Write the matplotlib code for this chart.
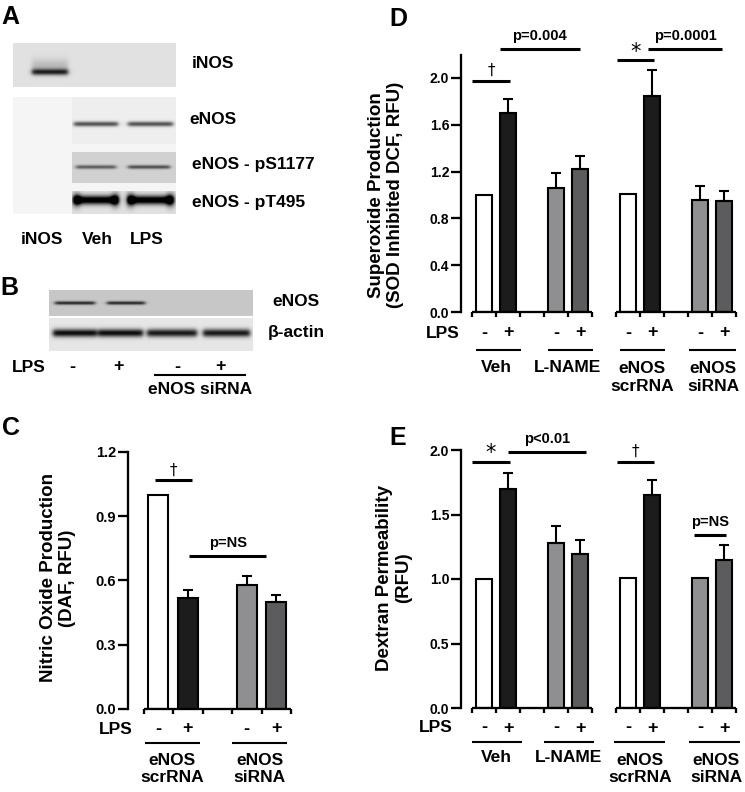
import numpy as np
import matplotlib
matplotlib.use("Agg")
import matplotlib.pyplot as plt
from matplotlib.transforms import blended_transform_factory

plt.rcParams['font.family'] = ['Liberation Sans', 'DejaVu Sans']
plt.rcParams['font.weight'] = 'bold'

W, H = 745, 792

# ---- data ----
lps_signs = ['-', '+']
bar_colors = ['white', '#1c1c1c', '#8f8f91', '#5c5c5e']

c_groups = ['eNOS\nscrRNA', 'eNOS\nsiRNA']
c_vals = [1.00, 0.52, 0.58, 0.50]
c_errs = [0.0, 0.036, 0.042, 0.033]
c_ticks = [0.0, 0.3, 0.6, 0.9, 1.2]

d_groups = ['Veh', 'L-NAME', 'eNOS\nscrRNA', 'eNOS\nsiRNA']
d_vals = [1.00, 1.70, 1.06, 1.22, 1.01, 1.85, 0.96, 0.95]
d_errs = [0.0, 0.12, 0.125, 0.11, 0.0, 0.22, 0.12, 0.08]
d_ticks = [0.0, 0.4, 0.8, 1.2, 1.6, 2.0]

e_groups = ['Veh', 'L-NAME', 'eNOS\nscrRNA', 'eNOS\nsiRNA']
e_vals = [1.00, 1.70, 1.28, 1.19, 1.01, 1.65, 1.01, 1.15]
e_errs = [0.0, 0.125, 0.13, 0.11, 0.0, 0.12, 0.0, 0.11]
e_ticks = [0.0, 0.5, 1.0, 1.5, 2.0]

# significance marks: (x0, x1, y, label)
c_sig = [(-0.1, 1.15, 1.067, '†'), (1.05, 3.65, 0.714, 'p=NS')]
d_sig = [(-0.5, 1.1, 1.977, '†'), (0.65, 4.0, 2.25, 'p=0.004'),
         (5.55, 7.1, 2.15, '*'), (6.85, 9.9, 2.25, 'p=0.0001')]
e_sig = [(-0.5, 1.08, 1.91, '*'), (1.0, 4.25, 1.987, 'p<0.01'),
         (5.55, 7.1, 1.91, '†'), (8.75, 10.1, 1.342, 'p=NS')]

blot_a_rows = ['iNOS', 'eNOS', 'eNOS - pS1177', 'eNOS - pT495']
blot_a_lanes = ['iNOS', 'Veh', 'LPS']
blot_b_rows = ['eNOS', 'β-actin']
blot_b_lps = ['-', '+', '-', '+']

fig = plt.figure(figsize=(W / 100, H / 100), dpi=100)
ax0 = fig.add_axes([0, 0, 1, 1])
ax0.set_xlim(0, W)
ax0.set_ylim(H, 0)
ax0.axis('off')


def blot(x0, x1, y0, y1, bg, bands):
    w, h = int(x1 - x0), int(y1 - y0)
    xx, yy = np.meshgrid(np.arange(w) + x0 + 0.5, np.arange(h) + y0 + 0.5)
    img = np.full((h, w), bg, float)
    for xa, xb, yc, th, dk in bands:
        tx = 0.5 * (np.tanh((xx - xa) / 2.5) - np.tanh((xx - xb) / 2.5))
        img -= dk * tx * np.exp(-((yy - yc) / th) ** 2)
    ax0.imshow(np.clip(img, 0, 1), cmap='gray', vmin=0, vmax=1,
               extent=(x0, x1, y1, y0), interpolation='bilinear',
               aspect='auto', zorder=1)


# panel A blots
blot(13, 176, 43, 87, 0.88, [(32, 68, 72, 3.2, 0.7), (32, 68, 66, 7, 0.15)])
blot(13, 176, 97, 214, 0.96, [])
blot(72, 176, 97, 144, 0.93, [(74, 118, 124, 2.5, 0.6), (128, 173, 124, 2.5, 0.6)])
blot(72, 176, 152, 183, 0.82, [(76, 116, 167, 2, 0.45), (128, 170, 167, 2, 0.5)])
blot(72, 176, 191, 214, 0.88, [(74, 118, 200, 4.5, 1.0), (128, 173, 200, 4.5, 1.0),
                              (73, 80, 200, 7, 0.6), (112, 119, 200, 7, 0.6),
                              (127, 134, 200, 7, 0.6), (167, 174, 200, 7, 0.6)])
for s, y, x in zip(blot_a_rows, [63, 120, 165, 203], [192, 189, 192, 192]):
    ax0.text(x, y, s, fontsize=12.5, va='center', ha='left')
for s, x in zip(blot_a_lanes, [42, 97, 147]):
    ax0.text(x, 240, s, fontsize=12.5, va='center', ha='center')

# panel B blots
blot(49, 253, 290, 316, 0.78, [(55, 95, 303, 1.8, 0.6), (107, 145, 303, 1.8, 0.6)])
blot(49, 253, 318, 351, 0.9, [(53, 97, 333, 4, 0.85), (98, 143, 333, 4, 0.85),
                             (147, 197, 333, 4, 0.8), (203, 250, 333, 4, 0.8)])
for s, y, x in zip(blot_b_rows, [301, 333], [272, 268]):
    ax0.text(x, y, s, fontsize=12.5, va='center', ha='left')
ax0.text(29, 367, 'LPS', fontsize=12.5, va='center', ha='center')
for s, x in zip(blot_b_lps, [72, 118, 177, 220]):
    ax0.text(x, 367, s, fontsize=13, va='center', ha='center')
ax0.plot([155, 245], [375, 375], color='black', lw=1.5)
ax0.text(200, 390, 'eNOS siRNA', fontsize=12.5, va='center', ha='center')

# panel letters
for s, x, y in [('A', 10, 17), ('B', 9, 288), ('C', 11, 428), ('D', 398, 19), ('E', 398, 438)]:
    ax0.text(x, y, s, fontsize=18, va='center', ha='center')

# y labels
ax0.text(58, 578, 'Nitric Oxide Production\n(DAF, RFU)', rotation=90, fontsize=13.5,
         ha='center', va='center', multialignment='center', linespacing=1.2)
ax0.text(386, 195, 'Superoxide Production\n(SOD Inhibited DCF, RFU)', rotation=90,
         fontsize=13.5, ha='center', va='center', multialignment='center', linespacing=1.2)
ax0.text(394, 578, 'Dextran Permeability\n(RFU)', rotation=90, fontsize=13.5,
         ha='center', va='center', multialignment='center', linespacing=1.2)


def px_axes(left, top, right, bottom):
    return fig.add_axes([left / W, 1 - bottom / H, (right - left) / W, (bottom - top) / H])


def bar_panel(ax, pos, vals, errs, colors, ticks, ytop, segs, scale, tsize):
    ax.bar(pos, vals, width=0.68, color=colors, edgecolor='black', linewidth=1.5, zorder=2)
    p = [x for x, e in zip(pos, errs) if e > 0]
    v = [y for y, e in zip(vals, errs) if e > 0]
    e = [e for e in errs if e > 0]
    ax.errorbar(p, v, yerr=[np.zeros(len(e)), e], fmt='none', ecolor='black',
                elinewidth=1.5, capsize=3.5, capthick=1.5, zorder=3)
    for s in ['top', 'right', 'bottom']:
        ax.spines[s].set_visible(False)
    ax.spines['left'].set_linewidth(1.65)
    ax.spines['left'].set_bounds(0, ytop)
    ax.set_yticks(ticks)
    ax.set_yticklabels([f'{t:.1f}' for t in ticks], fontsize=tsize, fontweight='bold')
    ax.tick_params(axis='y', length=7, width=1.65, pad=1.5)
    ax.set_xticks([])
    ax.patch.set_alpha(0)
    for a, b in segs:
        ax.plot([a, b], [0, 0], color='black', lw=1.65, clip_on=False, zorder=4,
                solid_capstyle='butt')
        t = np.arange(a, b + 0.01, 1.0)
        ax.vlines(t, -5 / scale, 0, color='black', lw=1.65, clip_on=False)


def sig_marks(ax, sig):
    for x0, x1, y, s in sig:
        ax.plot([x0, x1], [y, y], color='black', lw=2.2, clip_on=False,
                solid_capstyle='butt')
        if s == '*':
            ax.annotate(s, ((x0 + x1) / 2, y), xytext=(0, -1), textcoords='offset points',
                        ha='center', va='bottom', fontsize=15, fontweight='normal',
                        family='DejaVu Sans', annotation_clip=False)
        elif s == '†':
            ax.annotate(s, ((x0 + x1) / 2, y), xytext=(0, 2), textcoords='offset points',
                        ha='center', va='bottom', fontsize=11, fontweight='normal',
                        family='DejaVu Sans', annotation_clip=False)
        else:
            ax.annotate(s, ((x0 + x1) / 2, y), xytext=(0, 4), textcoords='offset points',
                        ha='center', va='bottom', fontsize=10.5, fontweight='bold',
                        annotation_clip=False)


def below(ax, pos, lps_x, y_lps, y_line, lines, labels, label_x, y_l1, y_l2):
    tr = blended_transform_factory(ax.transData, ax0.transData)
    ax.text(lps_x, y_lps, 'LPS', transform=tr, ha='right', va='center', fontsize=12.5,
            clip_on=False)
    for i, x in enumerate(pos):
        ax.text(x, y_lps, lps_signs[i % 2], transform=tr, ha='center', va='center',
                fontsize=13, clip_on=False)
    for a, b in lines:
        ax.plot([a, b], [y_line, y_line], transform=tr, color='black', lw=1.5,
                clip_on=False, solid_capstyle='butt')
    for s, x in zip(labels, label_x):
        y = (y_l1 + y_l2) / 2 if '\n' in s else y_l1
        ax.text(x, y, s, transform=tr, ha='center', va='center', fontsize=12.5,
                linespacing=1.2, clip_on=False)


# panel C
c_pos = [0, 1, 3, 4]
axc = px_axes(128, 451.7, 300, 709)
axc.set_xlim((128 - 158.3) / 29.5, (300 - 158.3) / 29.5)
axc.set_ylim(0, 1.2)
bar_panel(axc, c_pos, c_vals, c_errs, bar_colors, c_ticks, 1.2, [(-0.5, 4.5)], 214.2, 10.5)
sig_marks(axc, c_sig)
below(axc, c_pos, (133 - 158.3) / 29.5, 729, 743, [(-0.45, 1.4), (2.5, 4.35)],
      c_groups, [0.46, 3.43], 758, 780)

# panel D
de_pos = [0, 1, 3, 4, 6, 7, 9, 10]
de_colors = bar_colors * 2
axd = px_axes(461, 312 - 2.2 * 117, 740, 312)
axd.set_xlim((461 - 484) / 24, (740 - 484) / 24)
axd.set_ylim(0, 2.2)
bar_panel(axd, de_pos, d_vals, d_errs, de_colors, d_ticks, 2.2, [(-0.5, 4.5), (5.5, 10.5)], 117, 10)
sig_marks(axd, d_sig)
below(axd, de_pos, (460 - 484) / 24, 333, 350,
      [(-0.35, 1.55), (2.65, 4.55), (5.65, 7.55), (8.55, 10.5)],
      d_groups, [0.51, 3.49, 6.57, 9.54], 367, 388)

# panel E
axe = px_axes(461, 450, 740, 708)
axe.set_xlim((461 - 484) / 24, (740 - 484) / 24)
axe.set_ylim(0, 2.0)
bar_panel(axe, de_pos, e_vals, e_errs, de_colors, e_ticks, 2.0, [(-0.5, 4.5), (5.5, 10.5)], 129, 10)
sig_marks(axe, e_sig)
below(axe, de_pos, (453 - 484) / 24, 728, 742,
      [(-0.5, 1.57), (2.5, 4.58), (5.42, 7.54), (8.55, 10.67)],
      e_groups, [0.51, 3.5, 6.5, 9.68], 758, 780)

fig.savefig('out.png', dpi=100)
